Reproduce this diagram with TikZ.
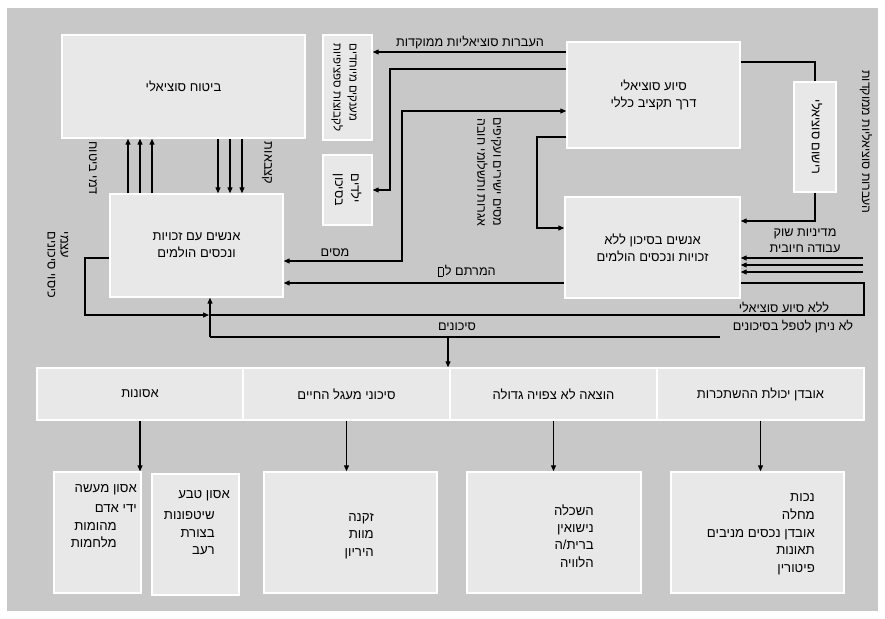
\documentclass[tikz,border=0pt]{standalone}
\usepackage{fontspec}
\newfontfamily\hebfont[Script=Hebrew]{Liberation Sans}
\TeXXeTstate=1
\usetikzlibrary{arrows.meta}
\newcommand\heb[1]{\beginR #1\endR}
\newcommand\tofubox{{\fboxsep=0pt\fboxrule=0.6pt\fbox{\rule{0pt}{8pt}\rule{4pt}{0pt}}}}
\definecolor{panel}{RGB}{200,200,200}
\definecolor{boxfill}{RGB}{232,232,232}
\begin{document}
\begin{tikzpicture}[x=1pt,y=-1pt,
  every node/.style={font=\hebfont\fontsize{12.7}{14}\selectfont, inner sep=0pt},
  box/.style={draw=white, fill=boxfill, line width=1.4pt},
  conn/.style={line width=1.15pt, draw=black},
  arr/.style={conn, -{Triangle[length=6pt,width=5pt]}},
  arrtwo/.style={conn, {Triangle[length=6pt,width=5pt]}-{Triangle[length=6pt,width=5pt]}},
  vlab/.style={rotate=-90},
  lines/.style={align=right, font=\hebfont\fontsize{13.2}{#1}\selectfont}]
\useasboundingbox (0,0) rectangle (885,618);
\fill[panel] (7,8) rectangle (878,611);

% main boxes
\node[box, minimum width=243pt, minimum height=103pt, font=\hebfont\fontsize{13}{14}\selectfont] (ins) at (183.5,86.5) {\heb{ביטוח סוציאלי}};
\node[box, minimum width=49pt, minimum height=105pt] (grants) at (347.5,87.5) {};
\node[vlab, align=left, font=\hebfont\fontsize{11.5}{16}\selectfont] (grantstxt) at (344,87.5) {\heb{מענקים מיוחדים}\\\heb{לקבוצות ספציפיות}};
\node[box, minimum width=49pt, minimum height=70pt] (kids) at (347.5,190) {};
\node[vlab, align=left, font=\hebfont\fontsize{12.7}{16}\selectfont] (kidstxt) at (347,190) {\heb{ילדים}\\\heb{בסיכון}};
\node[box, minimum width=173pt, minimum height=106pt, align=center, font=\hebfont\fontsize{13}{17}\selectfont] (siy) at (653.5,95) {\heb{סיוע סוציאלי}\\\heb{דרך תקציב כללי}};
\node[box, minimum width=175pt, minimum height=101pt, align=center, font=\hebfont\fontsize{13}{17}\selectfont] (risk) at (652.5,247.5) {\heb{אנשים בסיכון ללא}\\\heb{זכויות ונכסים הולמים}};
\node[box, minimum width=173pt, minimum height=103pt, align=center, font=\hebfont\fontsize{13}{17}\selectfont] (people) at (196.5,245.5) {\heb{אנשים עם זכויות}\\\heb{ונכסים הולמים}};
\node[box, minimum width=42pt, minimum height=110pt] (reg) at (815,137) {};
\node[vlab] (regtxt) at (817,137) {\heb{רישום סוציאלי}};

% labels
\node (lbltarget) at (470,43) {\heb{העברות סוציאליות ממוקדות}};
\node (lbltax) at (335,253) {\heb{מסים}};
\node (lblconv) at (467,271) {\heb{המרתם ל\kern1.5pt\tofubox}};
\node[vlab] (lblprem) at (93,168) {\heb{דמי ביטוח}};
\node[vlab] (lblben) at (267,163) {\heb{קצבאות}};
\node[vlab, align=left, font=\hebfont\fontsize{12.7}{13}\selectfont] (lblself) at (58,265) {\heb{עצמי}\\\heb{כיסוי סיכונים}};
\node[vlab, align=right, font=\hebfont\fontsize{12.5}{16}\selectfont] (lblmid) at (489,172) {\heb{מסים ישירים ועקיפים}\\\heb{אגרות ותשלומי חובה}};
\node[vlab, font=\hebfont\fontsize{12.3}{14}\selectfont] (lblright) at (866,142) {\heb{העברות סוציאליות ממוקדות}};
\node[align=center, font=\hebfont\fontsize{12.7}{16}\selectfont] (lblmarket) at (805,241) {\heb{מדיניות שוק}\\\heb{עבודה חיובית}};
\node (lblnoassist) at (784,307) {\heb{ללא סיוע סוציאלי}};
\node (lblcannot) at (793,327) {\heb{לא ניתן לטפל בסיכונים}};
\node (lblrisks) at (457,327) {\heb{סיכונים}};

% risk categories row
\node[box, minimum width=206pt, minimum height=52pt, font=\hebfont\fontsize{13}{14}\selectfont] (cat1) at (140,394) {\heb{אסונות}};
\node[box, minimum width=207pt, minimum height=52pt, font=\hebfont\fontsize{13}{14}\selectfont] (cat2) at (346.5,394) {\heb{סיכוני מעגל החיים}};
\node[box, minimum width=207pt, minimum height=52pt, font=\hebfont\fontsize{13}{14}\selectfont] (cat3) at (553.5,394) {\heb{הוצאה לא צפויה גדולה}};
\node[box, minimum width=207pt, minimum height=52pt, font=\hebfont\fontsize{13}{14}\selectfont] (cat4) at (760.5,394) {\heb{אובדן יכולת ההשתכרות}};

% bottom boxes
\node[box, minimum width=87pt, minimum height=121pt] (bxa) at (97.5,532.5) {};
\node[box, minimum width=87pt, minimum height=121pt] (bxb) at (195.5,534.5) {};
\node[box, minimum width=173pt, minimum height=121pt] (bxc) at (350.5,532.5) {};
\node[box, minimum width=174pt, minimum height=121pt] (bxd) at (554,532.5) {};
\node[box, minimum width=173pt, minimum height=121pt] (bxe) at (757.5,532.5) {};

\node[lines=20, anchor=east] (ta1) at (137,498) {\heb{אסון מעשה}\\\heb{ידי אדם}};
\node[lines=17, anchor=east] (ta2) at (117,535.5) {\heb{מהומות}\\\heb{מלחמות}};
\node[lines=14, anchor=east] (tb1) at (230,496) {\heb{אסון טבע}};
\node[lines=17.5, anchor=east] (tb2) at (215,533.5) {\heb{שיטפונות}\\\heb{בצורת}\\\heb{רעב}};
\node[lines=17.5, anchor=east] (tc) at (374,536) {\heb{זקנה}\\\heb{מוות}\\\heb{היריון}};
\node[lines=17.3, anchor=east] (td) at (594,536) {\heb{השכלה}\\\heb{נישואין}\\\heb{ברית/ה}\\\heb{הלוויה}};
\node[lines=17.75, anchor=east] (te) at (815,534.5) {\heb{נכות}\\\heb{מחלה}\\\heb{אובדן נכסים מניבים}\\\heb{תאונות}\\\heb{פיטורין}};

% guide coordinates
\coordinate (xa1) at (128,0); \coordinate (xa2) at (140,0); \coordinate (xa3) at (152,0);
\coordinate (xb1) at (218,0); \coordinate (xb2) at (230,0); \coordinate (xb3) at (242,0);
\foreach \c in {xa1,xa2,xa3} \draw[arr] (people.north -| \c) -- (ins.south -| \c);
\foreach \c in {xb1,xb2,xb3} \draw[arr] (ins.south -| \c) -- (people.north -| \c);

\coordinate (yt) at (0,52);
\draw[arr] (siy.west |- yt) -- (grants.east |- yt);
\coordinate (k1) at (390,69);
\draw[arr] (siy.west |- k1) -- (k1) -- (k1 |- kids.east) -- (kids.east);
\coordinate (t1) at (402,111); \coordinate (t2) at (402,261);
\draw[arrtwo] (siy.west |- t1) -- (t1) -- (t2) -- (people.east |- t2);
\coordinate (f1) at (537,137); \coordinate (f2) at (537,228);
\draw[arr] (siy.west |- f1) -- (f1) -- (f2) -- (risk.west |- f2);
\coordinate (r1) at (815,62);
\draw[conn] (siy.east |- r1) -- (r1) -- (reg.north);
\coordinate (r2) at (815,221);
\draw[arr] (reg.south) -- (r2) -- (risk.east |- r2);
\coordinate (m1) at (863,258); \coordinate (m2) at (863,265); \coordinate (m3) at (863,272);
\foreach \c in {m1,m2,m3} \draw[arr] (\c) -- (risk.east |- \c);
\coordinate (h1) at (0,283);
\draw[arr] (risk.west |- h1) -- (people.east |- h1);
\coordinate (n1) at (864,283); \coordinate (n2) at (864,315); \coordinate (jn) at (210,315);
\draw[conn] (risk.east |- n1) -- (n1) -- (n2) -- (jn);
\coordinate (s1) at (85,258); \coordinate (s2) at (85,315); \coordinate (jl) at (209,315);
\draw[arr] (people.west |- s1) -- (s1) -- (s2) -- (jl);
\coordinate (b1) at (210,337); \coordinate (b2) at (720,337);
\draw[conn] (b1) -- (b2);
\draw[arr] (b1) -- (people.south -| b1);
\coordinate (d1) at (448,337);
\draw[arr] (d1) -- (cat2.north -| d1);

\draw[arr] (cat1.south) -- (bxa.north -| cat1.south);
\draw[arr] (cat2.south) -- (bxc.north -| cat2.south);
\draw[arr] (cat3.south) -- (bxd.north -| cat3.south);
\draw[arr] (cat4.south) -- (bxe.north -| cat4.south);
\end{tikzpicture}
\end{document}
